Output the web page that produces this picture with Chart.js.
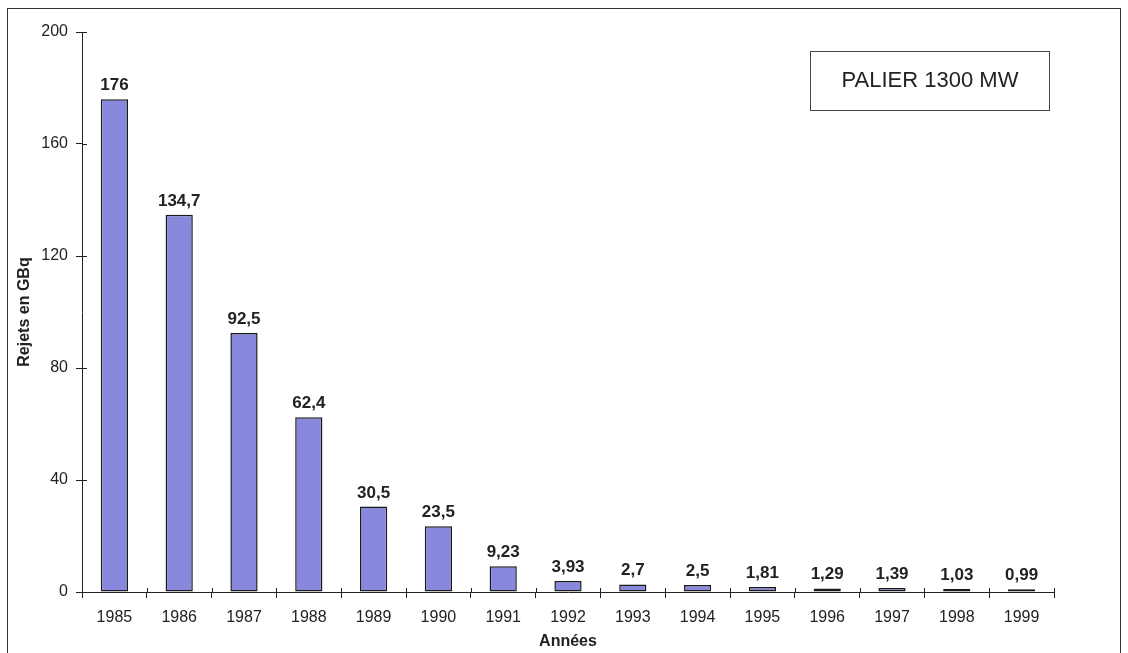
<!DOCTYPE html>
<html>
<head>
<meta charset="utf-8">
<script src="https://cdn.jsdelivr.net/npm/chart.js@4.4.1/dist/chart.umd.min.js"></script>
<style>
  html, body { margin: 0; padding: 0; background: #fff; }
  #wrap { width: 1128px; height: 653px; }
</style>
</head>
<body>
<div id="wrap"><canvas id="myChart" width="1128" height="653"></canvas></div>
<script>
const years = ['1985', '1986', '1987', '1988', '1989', '1990', '1991', '1992',
               '1993', '1994', '1995', '1996', '1997', '1998', '1999'];
const rejets = [176, 134.7, 92.5, 62.4, 30.5, 23.5, 9.23, 3.93, 2.7, 2.5, 1.81, 1.29, 1.39, 1.03, 0.99];
const valueLabels = ['176', '134,7', '92,5', '62,4', '30,5', '23,5', '9,23', '3,93',
                     '2,7', '2,5', '1,81', '1,29', '1,39', '1,03', '0,99'];
const yTicks = [0, 40, 80, 120, 160, 200];
const boxText = 'PALIER 1300 MW';

const FONT = "'Liberation Sans', Arial, Helvetica, sans-serif";
const INK = '#222';

// frame, inner tick stubs, value labels and the "PALIER" box
const decor = {
  id: 'decor',
  afterDraw(chart) {
    const ctx = chart.ctx;
    const area = chart.chartArea;
    ctx.save();
    ctx.strokeStyle = '#333';
    ctx.lineWidth = 1;
    ctx.strokeRect(7.5, 8.5, 1113, 700);

    // ticks crossing the axes, as in the original
    ctx.strokeStyle = INK;
    ctx.beginPath();
    const ys = chart.scales.y;
    yTicks.forEach(v => {
      const py = Math.round(ys.getPixelForValue(v)) + 0.5;
      ctx.moveTo(area.left, py);
      ctx.lineTo(area.left + 5, py);
    });
    const xs = chart.scales.x;
    for (let i = 0; i <= years.length; i++) {
      const px = Math.round(xs.getPixelForTick(0) - xs.width / years.length / 2 + i * xs.width / years.length) + 0.5;
      ctx.moveTo(px, area.bottom);
      ctx.lineTo(px, area.bottom - 4);
    }
    ctx.stroke();

    ctx.fillStyle = INK;
    ctx.font = 'bold 17px ' + FONT;
    ctx.textAlign = 'center';
    ctx.textBaseline = 'alphabetic';
    chart.getDatasetMeta(0).data.forEach((bar, i) => {
      ctx.fillText(valueLabels[i], bar.x, bar.y - 9);
    });

    ctx.strokeStyle = '#444';
    ctx.strokeRect(810.5, 51.5, 239, 59);
    ctx.font = '22px ' + FONT;
    ctx.textBaseline = 'middle';
    ctx.fillText(boxText, 930, 81);
    ctx.restore();
  }
};

const ctx = document.getElementById('myChart').getContext('2d');
new Chart(ctx, {
  type: 'bar',
  data: {
    labels: years,
    datasets: [{
      data: rejets,
      backgroundColor: '#8888dd',
      borderColor: '#1a1a1a',
      borderWidth: 1.5,
      borderSkipped: false,
      categoryPercentage: 1,
      barPercentage: 0.42
    }]
  },
  options: {
    responsive: false,
    animation: false,
    layout: { padding: { top: 32, right: 74, left: 11, bottom: 0 } },
    plugins: { legend: { display: false }, tooltip: { enabled: false } },
    scales: {
      x: {
        grid: { drawOnChartArea: false, offset: true, tickLength: 6, color: INK },
        border: { color: INK },
        ticks: { color: INK, font: { family: FONT, size: 16 }, padding: 10, maxRotation: 0 },
        title: { display: true, text: 'Années', color: INK, font: { family: FONT, size: 16, weight: 'bold' }, padding: { top: 0, bottom: 2 } },
        afterFit(scale) { scale.height = 61; }
      },
      y: {
        min: 0,
        max: 200,
        afterBuildTicks(scale) { scale.ticks = yTicks.map(v => ({ value: v })); },
        grid: { drawOnChartArea: false, tickLength: 6, color: INK },
        border: { color: INK },
        ticks: { color: INK, font: { family: FONT, size: 16 }, padding: 8 },
        title: { display: true, text: 'Rejets en GBq', color: INK, font: { family: FONT, size: 16, weight: 'bold' } },
        afterFit(scale) { scale.width = 71; }
      }
    }
  },
  plugins: [decor]
});
</script>
</body>
</html>
